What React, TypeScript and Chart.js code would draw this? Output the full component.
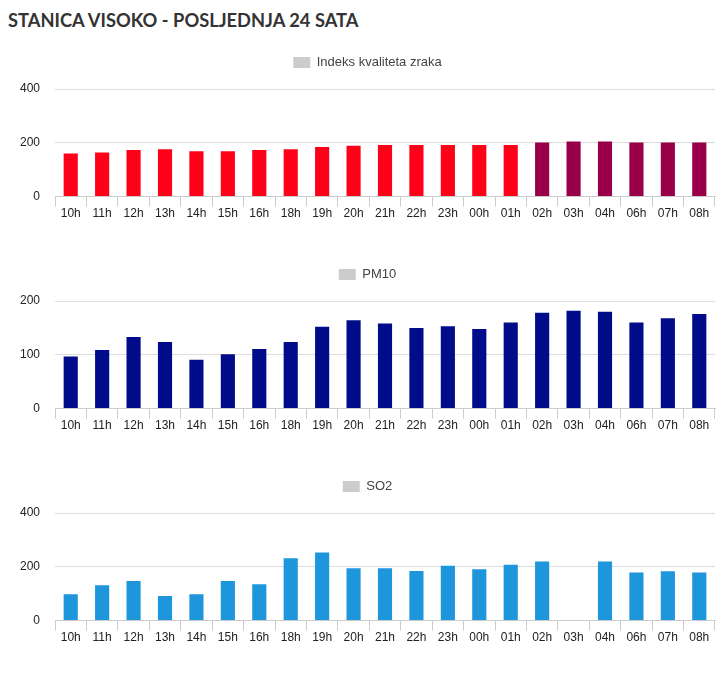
import React, { useEffect, useRef } from "react";
import { Chart, registerables } from "chart.js";

Chart.register(...registerables);

const TITLE = "STANICA VISOKO - POSLJEDNJA 24 SATA";

const hours = [
  "10h", "11h", "12h", "13h", "14h", "15h", "16h", "18h", "19h", "20h", "21h",
  "22h", "23h", "00h", "01h", "02h", "03h", "04h", "06h", "07h", "08h",
];

const aqiLabel = "Indeks kvaliteta zraka";
const aqiValues = [160, 164, 173, 176, 169, 169, 173, 176, 184, 189, 192, 192, 192, 192, 192, 201, 205, 205, 201, 201, 201];

const pm10Label = "PM10";
const pm10Values = [97, 109, 133, 124, 91, 101, 111, 124, 152, 164, 158, 150, 153, 148, 160, 178, 182, 180, 160, 168, 176];

const so2Label = "SO2";
const so2Values: (number | null)[] = [98, 131, 147, 91, 98, 147, 135, 232, 253, 195, 195, 184, 204, 191, 208, 220, null, 220, 179, 183, 179];

const aqiTicksMax = 400;
const aqiStep = 200;
const pm10TicksMax = 200;
const pm10Step = 100;
const so2TicksMax = 400;
const so2Step = 200;

const FONT = "'Liberation Sans', Arial, sans-serif";

type Cfg = {
  label: string;
  values: (number | null)[];
  color: (v: number | null) => string;
  max: number;
  step: number;
};

const legendMargin = {
  id: "legendMargin",
  beforeInit(chart: any) {
    const legend = chart.legend;
    if (!legend) return;
    const origFit = legend.fit;
    legend.fit = function () {
      origFit.call(this);
      this.height += 10;
    };
  },
};

function BarChart({ label, values, color, max, step }: Cfg) {
  const ref = useRef<HTMLCanvasElement | null>(null);
  useEffect(() => {
    if (!ref.current) return;
    const chart = new Chart(ref.current, {
      type: "bar",
      data: {
        labels: hours,
        datasets: [
          {
            label,
            data: values,
            backgroundColor: values.map((v) => color(v)),
            borderWidth: 0,
            categoryPercentage: 0.9,
            barPercentage: 0.5,
          },
        ],
      },
      plugins: [legendMargin],
      options: {
        animation: false,
        responsive: false,
        maintainAspectRatio: false,
        layout: { padding: { left: 12, right: 5, top: 0, bottom: 37 } },
        plugins: {
          tooltip: { enabled: false },
          legend: {
            display: true,
            position: "top",
            labels: {
              boxWidth: 17,
              boxHeight: 11,
              padding: 10,
              color: "#444",
              font: { family: FONT, size: 13 },
              generateLabels: (c: any) =>
                c.data.datasets.map((d: any, i: number) => ({
                  text: d.label,
                  fillStyle: "#cccccc",
                  strokeStyle: "#cccccc",
                  lineWidth: 0,
                  hidden: false,
                  datasetIndex: i,
                  fontColor: "#444",
                })),
            },
          },
        },
        scales: {
          x: {
            offset: true,
            grid: {
              offset: true,
              drawOnChartArea: false,
              drawTicks: true,
              tickLength: 10,
              color: "#cccccc",
            },
            border: { display: true, color: "#cccccc" },
            ticks: {
              color: "#222",
              font: { family: FONT, size: 12 },
              padding: 0,
              maxRotation: 0,
              autoSkip: false,
            },
          },
          y: {
            min: 0,
            max,
            afterFit: (axis: any) => {
              axis.width = 35;
            },
            ticks: {
              stepSize: step,
              color: "#222",
              font: { family: FONT, size: 12 },
              padding: 15,
            },
            grid: { color: "#dddddd", drawTicks: false },
            border: { display: false },
          },
        },
      },
    });
    return () => chart.destroy();
  }, []);
  return <canvas ref={ref} width={712} height={212} style={{ display: "block", width: 712, height: 212 }} />;
}

const aqiColor = (v: number | null) => (v !== null && v > 200 ? "#990049" : "#ff0019");
const pm10Color = () => "#000c8a";
const so2Color = () => "#1e96dc";

export default function App() {
  return (
    <div style={{ width: 712 }}>
      <div
        style={{
          fontFamily: "Lato, 'Open Sans', sans-serif",
          fontWeight: 700,
          fontSize: 18.3,
          color: "#333",
          height: 38,
          lineHeight: "22px",
          paddingTop: 1,
          boxSizing: "border-box",
        }}
      >
        {TITLE}
      </div>
      <BarChart label={aqiLabel} values={aqiValues} color={aqiColor} max={aqiTicksMax} step={aqiStep} />
      <BarChart label={pm10Label} values={pm10Values} color={pm10Color} max={pm10TicksMax} step={pm10Step} />
      <BarChart label={so2Label} values={so2Values} color={so2Color} max={so2TicksMax} step={so2Step} />
    </div>
  );
}
